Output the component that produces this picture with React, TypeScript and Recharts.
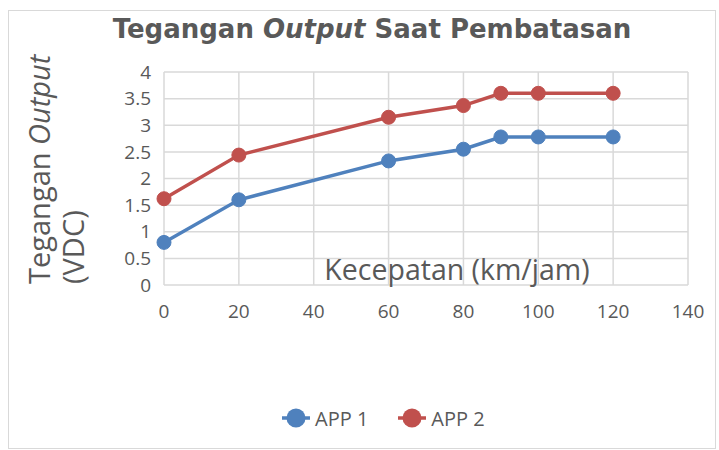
import React from 'react';
import { LineChart, Line, XAxis, YAxis, CartesianGrid } from 'recharts';

const speeds = [0, 20, 60, 80, 90, 100, 120];
const app1 = [0.8, 1.6, 2.33, 2.55, 2.78, 2.78, 2.78];
const app2 = [1.62, 2.44, 3.15, 3.37, 3.6, 3.6, 3.6];
const xTicks = [0, 20, 40, 60, 80, 100, 120, 140];
const yTicks = [0, 0.5, 1, 1.5, 2, 2.5, 3, 3.5, 4];

const BLUE = '#4F81BD';
const RED = '#C0504D';
const TEXT = '#595959';
const FONT = '"Open Sans", sans-serif';

const data = speeds.map((s, i) => ({ speed: s, app1: app1[i], app2: app2[i] }));

const series = [
  { key: 'app1', name: 'APP 1', color: BLUE },
  { key: 'app2', name: 'APP 2', color: RED },
];

// legend drawn outside the chart so it does not shrink the plot area
function ChartLegend() {
  return (
    <div
      style={{
        position: 'absolute', left: 282, top: 405, height: 26,
        display: 'flex', gap: 30,
        fontFamily: FONT, fontSize: 20, color: TEXT,
      }}
    >
      {series.map((s) => (
        <div key={s.key} style={{ display: 'flex', alignItems: 'center', gap: 5 }}>
          <svg width={28} height={26}>
            <line x1={0} y1={13} x2={28} y2={13} stroke={s.color} strokeWidth={3.5} />
            <circle cx={14} cy={13} r={9.5} fill={s.color} />
          </svg>
          <span>{s.name}</span>
        </div>
      ))}
    </div>
  );
}

export default function App() {
  return (
    <div style={{ position: 'fixed', left: 0, top: 0, width: 719, height: 450, background: '#fff' }}>
      <div
        style={{
          position: 'absolute', left: 8, top: 10, width: 708, height: 439,
          border: '1px solid #d9d9d9', boxSizing: 'border-box',
        }}
      />
      <LineChart
        width={719}
        height={450}
        data={data}
        margin={{ top: 72, right: 31, left: 104, bottom: 135 }}
        style={{ fontFamily: FONT, position: 'absolute', left: 0, top: 0 }}
      >
        <CartesianGrid stroke="#d9d9d9" strokeWidth={1.5} />
        <XAxis
          dataKey="speed"
          type="number"
          domain={[0, 140]}
          ticks={xTicks}
          interval={0}
          axisLine={false}
          tickLine={false}
          tickMargin={14}
          height={30}
          tick={{ fill: TEXT, fontSize: 19 }}
        />
        <YAxis
          type="number"
          domain={[0, 4]}
          ticks={yTicks}
          interval={0}
          axisLine={false}
          tickLine={false}
          tickMargin={7}
          width={60}
          tick={{ fill: TEXT, fontSize: 19 }}
        />
        {series.map((s) => (
          <Line
            key={s.key}
            dataKey={s.key}
            name={s.name}
            stroke={s.color}
            strokeWidth={3.5}
            dot={{ r: 7, fill: s.color, stroke: s.color, strokeWidth: 1 }}
            activeDot={false}
            isAnimationActive={false}
          />
        ))}
        <text x={372} y={38} textAnchor="middle" fill={TEXT} fontSize={26} fontWeight="bold" fontFamily='"DejaVu Sans", sans-serif'>
          Tegangan <tspan fontStyle="italic">Output</tspan> Saat Pembatasan
        </text>
        <text x={457} y={280} textAnchor="middle" fill={TEXT} fontSize={28.5} fontFamily={FONT}>
          Kecepatan (km/jam)
        </text>
        <text transform="translate(50,284) rotate(-90)" textAnchor="start" fill={TEXT} fontSize={29} fontFamily={FONT}>
          Tegangan <tspan fontStyle="italic">Output</tspan>
        </text>
        <text transform="translate(84,284) rotate(-90)" textAnchor="start" fill={TEXT} fontSize={29} fontFamily={FONT}>
          (VDC)
        </text>
      </LineChart>
      <ChartLegend />
    </div>
  );
}
